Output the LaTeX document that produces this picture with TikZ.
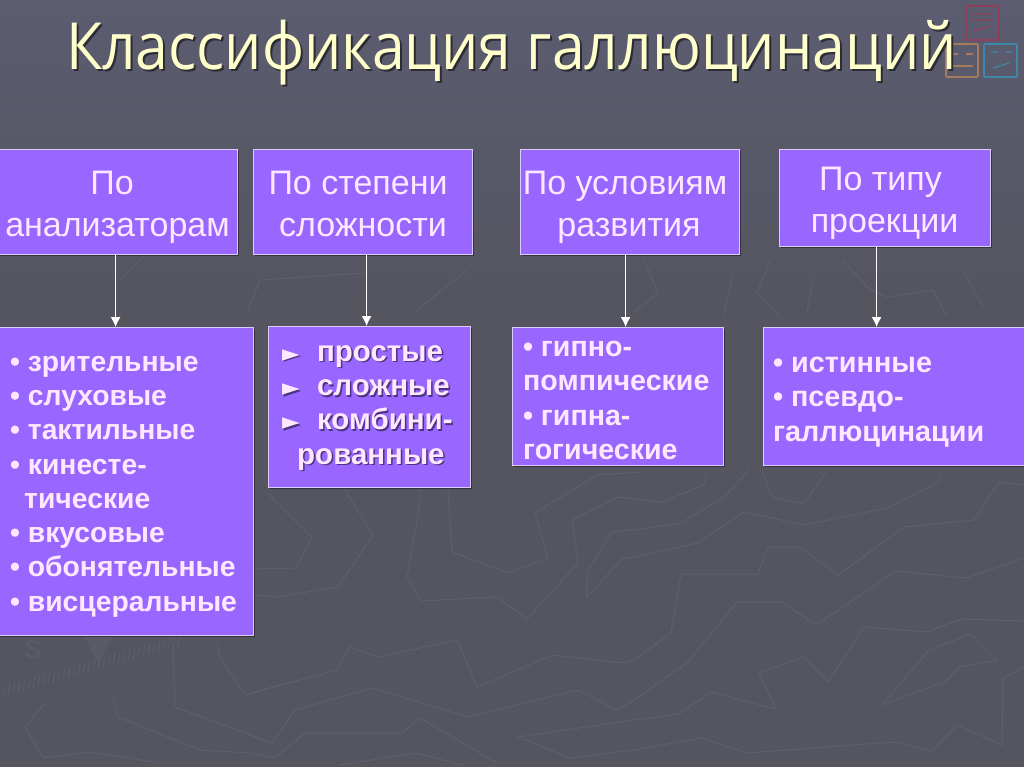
\documentclass[tikz,border=0pt]{standalone}
\usepackage{fontspec}
\setmainfont{Liberation Sans}
\newfontfamily\symfont{DejaVu Sans}
\newfontfamily\titlefam[FakeStretch=0.906]{Open Sans}
\usetikzlibrary{arrows.meta,shadows}
\definecolor{bgtop}{HTML}{5B5C70}
\definecolor{bgc}{HTML}{54555F}
\definecolor{texc}{HTML}{5E5F6A}
\definecolor{boxc}{HTML}{9966FF}
\definecolor{edgec}{HTML}{DCCCFC}
\definecolor{txtc}{HTML}{FFE8FF}
\definecolor{titlec}{HTML}{FFFFCC}
\definecolor{shadec}{HTML}{2C2C34}
\definecolor{shadep}{HTML}{4A3480}
\definecolor{redi}{HTML}{8E3F5A}
\definecolor{orai}{HTML}{A67C5E}
\definecolor{blui}{HTML}{3F86A8}
\newcommand{\shadowed}[3]{\rlap{\raisebox{-#2}{\hspace{#2}\textcolor{#3}{#1}}}#1}
\newcommand{\itm}{•\hspace{7.8pt}}
\newcommand{\trg}{{\symfont\fontsize{23}{23}\selectfont\shadowed{►}{1.5pt}{shadep}}\hspace{17.2pt}}
\tikzset{
  x=1pt,y=-1pt,
  headbox/.style={draw=edgec,line width=1.2pt,fill=boxc,anchor=north west,inner sep=0pt,
    drop shadow={shadow xshift=1.5pt,shadow yshift=-1.5pt,opacity=.4,fill=black}},
  headtext/.style={text=txtc,font=\fontsize{34}{42}\selectfont,align=center,inner sep=0pt},
  listtext/.style={text=txtc,font=\fontsize{28.3}{34.3}\selectfont\bfseries,align=left,anchor=west,inner sep=0pt},
  arr/.style={draw=white,line width=1.2pt,-{Latex[length=10pt,width=10pt]}},
  tex/.style={draw=texc,line width=1pt,line join=round},
  iconbox/.style={line width=1.6pt,rounded corners=1pt},
  titlefont/.style={font=\titlefam\fontsize{65}{70}\selectfont,inner sep=0pt,anchor=base west},
}
\begin{document}
\begin{tikzpicture}
\useasboundingbox (0,0) rectangle (1024,767);
\shade[top color=bgtop,bottom color=bgc] (0,0) rectangle (1024,300);
\fill[bgc] (0,299.5) rectangle (1024,767);
% faint background texture
\draw[tex] (267,493) -- (312,537) -- (296,568) -- (255,569);
\draw[tex] (345,490) -- (373,535) -- (338,587) -- (277,597) -- (255,595);
\draw[tex] (420,490) -- (420,503) -- (407,577) -- (421,601) -- (497,597) -- (527,619) -- (578,563) -- (572,520) -- (617,497) -- (661,502) -- (704,485) -- (707,470);
\draw[tex] (448,490) -- (452,552) -- (508,573) -- (548,558) -- (535,513) -- (597,475) -- (640,472);
\draw[tex] (749,470) -- (724,497) -- (681,523) -- (634,530) -- (612,532) -- (588,570) -- (586,598) -- (623,558) -- (634,557) -- (697,543) -- (744,512) -- (804,525) -- (887,508) -- (939,482) -- (942,470);
\draw[tex] (250,693) -- (337,670) -- (350,647) -- (378,657) -- (457,640) -- (477,687) -- (553,655) -- (625,663) -- (634,660) -- (671,633) -- (681,574) -- (758,574) -- (768,547) -- (800,547) -- (838,575) -- (904,527) -- (974,520) -- (999,482) -- (1024,485);
\draw[tex] (250,735) -- (272,743) -- (295,710) -- (372,688) -- (468,717) -- (578,690) -- (617,710) -- (634,700) -- (687,663) -- (737,602) -- (782,602) -- (816,625) -- (896,571) -- (966,578) -- (1024,558);
\draw[tex] (250,753) -- (275,758) -- (305,733) -- (402,733) -- (420,718) -- (497,763);
\draw[tex] (340,765) -- (415,753) -- (463,765);
\draw[tex] (1024,621) -- (961,619) -- (927,632) -- (864,627) -- (828,682) -- (804,657) -- (759,673) -- (776,709) -- (711,692) -- (679,714) -- (634,720) -- (518,737) -- (570,758) -- (634,750) -- (701,738) -- (747,753) -- (894,742) -- (932,751) -- (957,725) -- (1002,745) -- (1003,678) -- (1024,667);
\draw[tex] (762,470) -- (772,497) -- (804,504) -- (827,470);
\draw[tex] (882,705) -- (929,650) -- (971,634) -- (997,660) -- (959,667) -- (946,681) -- cycle;
\draw[tex] (217,643) -- (220,657) -- (245,695) -- (300,680);
\draw[tex] (173,643) -- (175,707) -- (272,743);
\draw[tex] (113,697) -- (118,717) -- (200,750) -- (250,753);
\draw[tex] (45,703) -- (25,727) -- (43,758) -- (90,752) -- (160,763);
\draw[tex] (247,313) -- (260,280) -- (363,273);
\draw[tex] (467,270) -- (417,310);
\draw[tex] (147,253) -- (120,280);
\draw[tex] (643,257) -- (658,293) -- (633,313);
\draw[tex] (733,273) -- (723,317);
\draw[tex] (770,260) -- (757,293) -- (780,317);
\draw[tex] (813,277) -- (807,313);
\draw[tex] (843,260) -- (870,290) -- (887,297) -- (933,290) -- (947,317);
\draw[tex] (963,270) -- (983,307);
\foreach \i in {0,...,36}{
  \draw[texc,line width=1pt] ({\i*5},{687-\i*1.45}) -- ({\i*5-2},{698-\i*1.45});
}
\fill[texc,opacity=.6] (85,637) -- (113,637) -- (98,663) -- cycle;
\node[text=texc,opacity=.6,font=\bfseries\fontsize{26}{26}\selectfont,inner sep=0pt] (compass) at (33,650) {S};
% icon
\draw[redi,iconbox] (966,6) rectangle (999,40);
\draw[redi,line width=1.2pt] (972,14) -- (993,14) (972,20) -- (993,20) (974,31) -- (990,26);
\draw[orai,iconbox] (946,44) rectangle (978,77);
\draw[orai,line width=1.2pt] (952,54) -- (958,54) (966,54) -- (973,54) (952,66) -- (973,66);
\draw[blui,iconbox] (984,44) rectangle (1017,77);
\draw[blui,line width=1.2pt] (991,52) -- (998,52) (1006,52) -- (1012,52) (993,68) -- (1009,63);
% title
\node[titlefont,text=titlec] (title) at (66,70) {\shadowed{Классификация галлюцинаций}{2pt}{shadec}};
% header boxes
\node[headbox,minimum width=239pt,minimum height=105pt] (h1) at (-2,149) {};
\node[headbox,minimum width=219pt,minimum height=105pt] (h2) at (253,149) {};
\node[headbox,minimum width=219pt,minimum height=105pt] (h3) at (520,149) {};
\node[headbox,minimum width=211pt,minimum height=97pt] (h4) at (779,149) {};
% list boxes
\node[headbox,minimum width=255pt,minimum height=308pt] (l1) at (-2,327) {};
\node[headbox,minimum width=202pt,minimum height=161pt] (l2) at (268,326) {};
\node[headbox,minimum width=211pt,minimum height=138pt] (l3) at (512,327) {};
\node[headbox,minimum width=263pt,minimum height=138pt] (l4) at (763,327) {};
% header texts
\node[headtext] (ht1) at (117.5,207) {\hspace*{-11pt}По\\анализаторам};
\node[headtext] (ht2) at (358,204) {По степени\\\hspace*{10pt}сложности};
\node[headtext] (ht3) at (625,207) {По условиям\\\hspace*{8pt}развития};
\node[headtext] (ht4) at (884.5,203) {\hspace*{-8pt}По типу\\проекции};
% list texts
\node[listtext] (lt1) at (10,486.5) {\itm зрительные\\\itm слуховые\\\itm тактильные\\\itm кинесте-\\\hspace*{14pt}тические\\\itm вкусовые\\\itm обонятельные\\\itm висцеральные};
\node[listtext,font=\fontsize{29.5}{34.3}\selectfont\bfseries] (lt2) at (282,408.5) {\trg\shadowed{простые}{1.5pt}{shadep}\\\trg\shadowed{сложные}{1.5pt}{shadep}\\\trg\shadowed{комбини-}{1.5pt}{shadep}\\\hspace*{15pt}\shadowed{рованные}{1.5pt}{shadep}};
\node[listtext,font=\fontsize{28.6}{34.3}\selectfont\bfseries] (lt3) at (523,400.5) {\itm гипно-\\помпические\\\itm гипна-\\гогические};
\node[listtext,font=\fontsize{28.8}{34.8}\selectfont\bfseries] (lt4) at (773,402) {\itm истинные\\\itm псевдо-\\галлюцинации};
% connectors
\draw[arr] ([xshift=-2.5pt]h1.south) -- ([xshift=-10.5pt]l1.north);
\draw[arr] ([xshift=3.5pt]h2.south) -- ([xshift=-3pt]l2.north);
\draw[arr] ([xshift=-4.5pt]h3.south) -- ([xshift=7.5pt]l3.north);
\draw[arr] ([xshift=-8.5pt]h4.south) -- ([xshift=-18.5pt]l4.north);
\end{tikzpicture}
\end{document}
